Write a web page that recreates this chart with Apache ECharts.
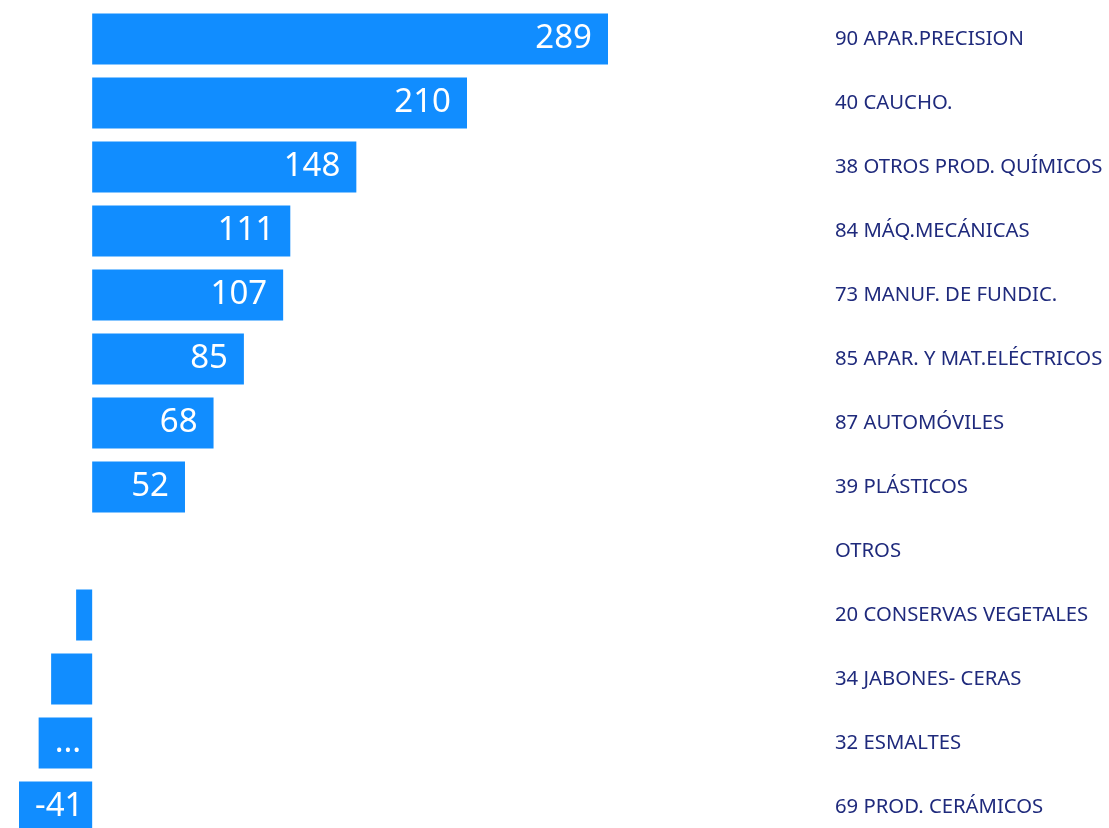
<!DOCTYPE html>
<html>
<head>
<meta charset="utf-8">
<script src="https://cdn.jsdelivr.net/npm/echarts@6/dist/echarts.min.js"></script>
<style>
html,body{margin:0;padding:0;background:#fff;overflow:hidden;height:828px;}
#chart{width:1109px;height:840px;}
</style>
</head>
<body>
<div id="chart"></div>
<script>
const categories = [
  "90 APAR.PRECISION",
  "40 CAUCHO.",
  "38 OTROS PROD. QUÍMICOS",
  "84 MÁQ.MECÁNICAS",
  "73 MANUF. DE FUNDIC.",
  "85 APAR. Y MAT.ELÉCTRICOS",
  "87 AUTOMÓVILES",
  "39 PLÁSTICOS",
  "OTROS",
  "20 CONSERVAS VEGETALES",
  "34 JABONES- CERAS",
  "32 ESMALTES",
  "69 PROD. CERÁMICOS"
];
const values = [289, 210, 148, 111, 107, 85, 68, 52, 0, -9, -23, -30, -41];

const chart = echarts.init(document.getElementById('chart'));
const data = values.map(v => ({
  value: v,
  label: v < 0 ? { position: 'insideLeft', distance: 16 } : { position: 'insideRight', distance: 16 }
}));
chart.setOption({
  animation: false,
  grid: { left: 19, right: 501, top: 7, height: 832, containLabel: false },
  xAxis: {
    type: 'value', min: -41, max: 289,
    show: false, splitLine: { show: false }
  },
  yAxis: {
    type: 'category', data: categories, inverse: true, position: 'right',
    axisLine: { show: false }, axisTick: { show: false },
    axisLabel: {
      align: 'left', margin: 227, color: '#1f2a7c', fontSize: 20.3,
      fontFamily: 'Noto Sans'
    }
  },
  series: [{
    type: 'bar', data: data, barWidth: 51,
    itemStyle: { color: '#118DFF' },
    label: {
      show: true, color: '#ffffff', fontSize: 33, fontFamily: 'Noto Sans',
      formatter: p => {
        const a = Math.abs(p.value);
        if (p.value === 0 || a < 25) return '';
        if (a < 35) return '...';
        return String(p.value);
      }
    }
  }]
});
</script>
</body>
</html>
